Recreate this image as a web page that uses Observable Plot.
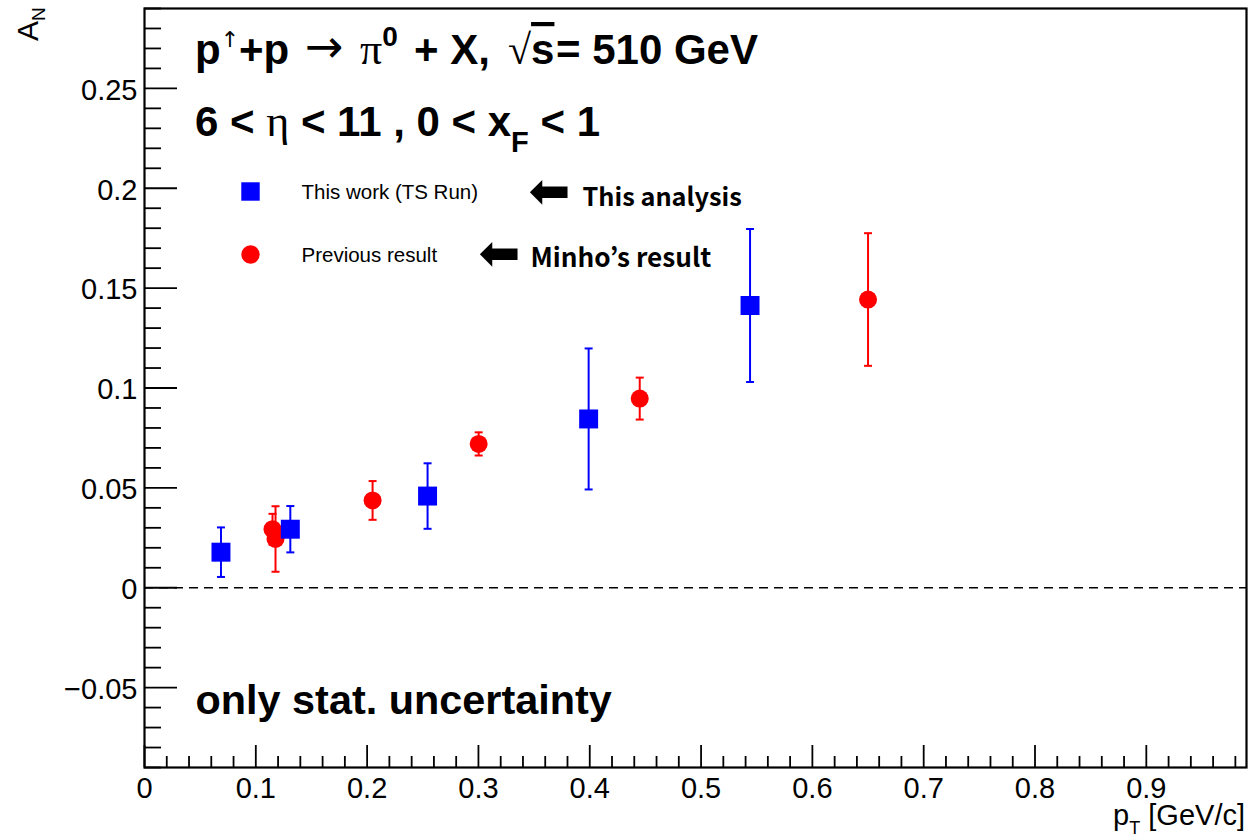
<!DOCTYPE html>
<html><head><meta charset="utf-8">
<script src="https://cdn.jsdelivr.net/npm/d3@7"></script>
<script src="https://cdn.jsdelivr.net/npm/@observablehq/plot@0.6"></script>
<style>
html,body{margin:0;padding:0;background:#fff;}
#chart{width:1250px;height:836px;position:relative;}
</style></head><body><div id="chart"></div>
<script>
// ---- data ----
const thisWorkPt  = [0.0687, 0.131, 0.2543, 0.399, 0.544];
const thisWorkAN  = [0.0178, 0.0293, 0.0459, 0.0845, 0.1413];
const thisWorkErr = [0.0124, 0.0116, 0.0164, 0.0353, 0.0383];
const prevPt  = [0.115, 0.1177, 0.2049, 0.3002, 0.4449, 0.650];
const prevAN  = [0.0293, 0.0244, 0.0437, 0.0720, 0.0947, 0.1443];
const prevErr = [0.0077, 0.0164, 0.0097, 0.0058, 0.0105, 0.0332];
const legendLabels = ["This work (TS Run)", "Previous result"];
const legendNotes = ["This analysis", "Minho\u2019s result"];
const xMajorTicks = [0, 0.1, 0.2, 0.3, 0.4, 0.5, 0.6, 0.7, 0.8, 0.9];
const xTickLabels = ["0", "0.1", "0.2", "0.3", "0.4", "0.5", "0.6", "0.7", "0.8", "0.9"];
const yMajorTicks = [-0.05, 0, 0.05, 0.1, 0.15, 0.2, 0.25];
const yTickLabels = ["\u22120.05", "0", "0.05", "0.1", "0.15", "0.2", "0.25"];
const xDomain = [0, 0.99];
const yDomain = [-0.09, 0.29];

const thisWork = thisWorkPt.map((x, i) => ({x, y: thisWorkAN[i], e: thisWorkErr[i]}));
const prev = prevPt.map((x, i) => ({x, y: prevAN[i], e: prevErr[i]}));
const xMinorTicks = d3.range(0, 0.99, 0.02).filter(v => Math.abs(Math.round(v * 10) - v * 10) > 1e-6);
const yMinorTicks = d3.range(-0.09, 0.2901, 0.01).map(v => +v.toFixed(3)).filter(v => Math.abs(Math.round(v * 20) - v * 20) > 1e-6);
const xLab = new Map(xMajorTicks.map((d, i) => [d, xTickLabels[i]]));
const yLab = new Map(yMajorTicks.map((d, i) => [d, yTickLabels[i]]));

const W = 1250, H = 836, mL = 144, mR = 4, mT = 8, mB = 69;
const fw = W - mL - mR, fh = H - mT - mB;
const BLUE = "#0000ff", RED = "#ff0000";
const cap = {draw(ctx) { ctx.moveTo(-4, 0); ctx.lineTo(4, 0); }};

function errMarks(data, color) {
  return [
    Plot.ruleX(data, {x: "x", y1: d => d.y - d.e, y2: d => d.y + d.e, stroke: color, strokeWidth: 2}),
    Plot.dot(data, {x: "x", y: d => d.y + d.e, symbol: cap, r: 4, fill: "none", stroke: color, strokeWidth: 2}),
    Plot.dot(data, {x: "x", y: d => d.y - d.e, symbol: cap, r: 4, fill: "none", stroke: color, strokeWidth: 2})
  ];
}
const note = (txt, x, y, opts) => Plot.text([txt], {text: d => d, frameAnchor: "top-left", dx: x - mL, dy: y - mT, textAnchor: "start", lineAnchor: "middle", fill: "#000", ...opts});

const plot = Plot.plot({
  width: W, height: H,
  marginLeft: mL, marginRight: mR, marginTop: mT, marginBottom: mB,
  style: {fontFamily: "'Liberation Sans', Arial, sans-serif", background: "#fff", overflow: "visible"},
  x: {domain: xDomain},
  y: {domain: yDomain},
  marks: [
    Plot.ruleY([0], {stroke: "#000", strokeWidth: 1.5, strokeDasharray: "9,6"}),
    // ticks (inward, ROOT style)
    Plot.ruleX(xMajorTicks, {insetTop: fh - 22, stroke: "#000", strokeWidth: 1.8}),
    Plot.ruleX(xMinorTicks, {insetTop: fh - 11, stroke: "#000", strokeWidth: 1.8}),
    Plot.ruleY(yMajorTicks, {insetRight: fw - 33, stroke: "#000", strokeWidth: 1.8}),
    Plot.ruleY(yMinorTicks, {insetRight: fw - 17, stroke: "#000", strokeWidth: 1.8}),
    Plot.axisX(xMajorTicks, {tickSize: 0, tickPadding: 9.5, fontSize: 29, label: null, tickFormat: d => xLab.get(d), fill: "#000"}),
    Plot.axisY(yMajorTicks, {tickSize: 0, tickPadding: 7, fontSize: 29, label: null, tickFormat: d => yLab.get(d), dy: 2, fill: "#000"}),
    Plot.frame({stroke: "#000", strokeWidth: 2.2}),
    // data
    ...errMarks(prev, RED),
    Plot.dot(prev, {x: "x", y: "y", symbol: "circle", r: 9, fill: RED}),
    ...errMarks(thisWork, BLUE),
    Plot.dot(thisWork, {x: "x", y: "y", symbol: "square", r: 10.7, fill: BLUE}),
    // legend
    Plot.dot([legendLabels[0]], {frameAnchor: "top-left", dx: 250 - mL, dy: 191 - mT, symbol: "square", r: 10.4, fill: BLUE}),
    Plot.dot([legendLabels[1]], {frameAnchor: "top-left", dx: 250 - mL, dy: 254 - mT, symbol: "circle", r: 9.2, fill: RED}),
    note(legendLabels[0], 301, 192, {fontSize: 20.5}),
    note(legendLabels[1], 301, 255, {fontSize: 20.5}),
    note("\u2B05", 528, 191, {fontSize: 50, fontFamily: "'DejaVu Sans'"}),
    note("\u2B05", 478, 253, {fontSize: 50, fontFamily: "'DejaVu Sans'"}),
    note(legendNotes[0], 582, 197, {fontSize: 25.3, fontWeight: "bold", fontFamily: "'Noto Sans CJK KR'"}),
    note(legendNotes[1], 530, 258, {fontSize: 26.2, fontWeight: "bold", fontFamily: "'Noto Sans CJK KR'"}),
    note("only stat. uncertainty", 195, 700, {fontSize: 41.4, fontWeight: "bold"})
  ]
});
document.getElementById("chart").appendChild(plot);

// rich-text annotations (superscripts / subscripts)
const svg = d3.select(plot);
const g = svg.append("g").attr("font-family", "'Liberation Sans', Arial, sans-serif").attr("fill", "#000").attr("text-anchor", "start");
const serif = "'Liberation Serif', 'DejaVu Serif', serif";
const dv = "'DejaVu Sans'";

const t1 = g.append("text").attr("x", 195).attr("y", 64).attr("font-size", 42).attr("font-weight", "bold");
t1.append("tspan").text("p");
t1.append("tspan").attr("dy", -17).attr("font-size", 22).attr("font-weight", "normal").attr("font-family", dv).text("\u2191");
t1.append("tspan").attr("dy", 17).text("+p");
t1.append("tspan").attr("x", 305).attr("dy", -2).attr("font-weight", "normal").attr("font-size", 46).attr("font-family", dv).text("\u2192");
t1.append("tspan").attr("x", 360).attr("dy", 2).attr("font-weight", "normal").attr("font-family", serif).attr("font-size", 44).text("\u03C0");
t1.append("tspan").attr("dy", -18).attr("font-size", 28).text("0");
t1.append("tspan").attr("x", 414).attr("dy", 18).text("+ X,");
t1.append("tspan").attr("x", 508).attr("font-weight", "normal").attr("font-family", serif).text("\u221A");
t1.append("tspan").style("text-decoration", "overline").text("s");
t1.append("tspan").attr("x", 556).text("= 510 GeV");

const t2 = g.append("text").attr("x", 195).attr("y", 136).attr("font-size", 42).attr("font-weight", "bold");
t2.append("tspan").text("6 < ");
t2.append("tspan").attr("font-weight", "normal").attr("font-family", serif).attr("font-size", 44).text("\u03B7");
t2.append("tspan").text(" < 11 , 0 < x");
t2.append("tspan").attr("dy", 16).attr("font-size", 29).text("F");
t2.append("tspan").attr("dy", -16).text(" < 1");

// axis titles
const ya = g.append("text").attr("transform", "translate(38,41) rotate(-90)").attr("font-size", 30);
ya.append("tspan").text("A");
ya.append("tspan").attr("dy", 7).attr("font-size", 19).text("N");

const xa = g.append("text").attr("x", 1245).attr("y", 825).attr("text-anchor", "end").attr("font-size", 29);
xa.append("tspan").text("p");
xa.append("tspan").attr("dy", 9).attr("font-size", 18).text("T");
xa.append("tspan").attr("dy", -9).text(" [GeV/c]");
</script></body></html>
